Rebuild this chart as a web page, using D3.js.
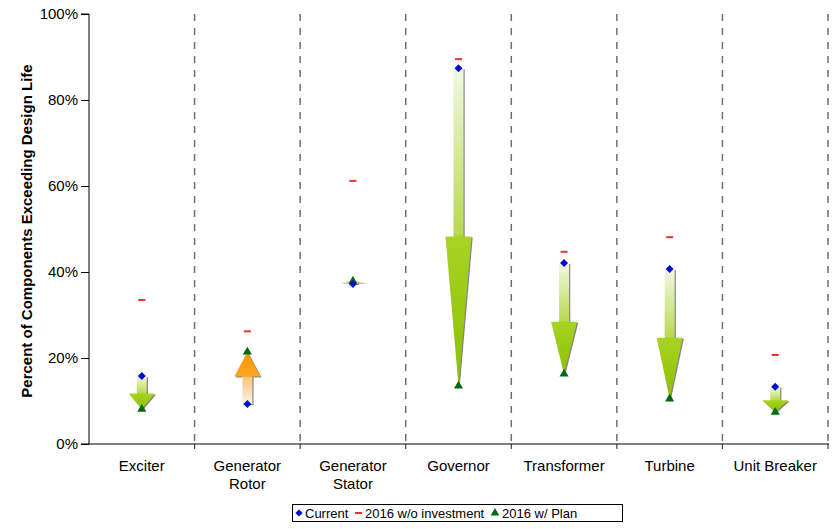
<!DOCTYPE html>
<html>
<head>
<meta charset="utf-8">
<script src="https://cdn.jsdelivr.net/npm/d3@7"></script>
<style>
  body { margin: 0; background: #fff; }
  svg { font-family: "Liberation Sans", Arial, sans-serif; }
  .axis text { font-size: 15px; fill: #000; }
</style>
</head>
<body>
<svg id="chart" width="834" height="529"></svg>
<script>
// chart values (fractions of 1)
const categories = ['Exciter', 'Generator\nRotor', 'Generator\nStator', 'Governor', 'Transformer', 'Turbine', 'Unit Breaker'];
const current = [0.158, 0.093, 0.372, 0.874, 0.421, 0.407, 0.133];
const noInvestment = [0.335, 0.262, 0.612, 0.895, 0.447, 0.481, 0.207];
const withPlan = [0.081, 0.214, 0.379, 0.135, 0.163, 0.105, 0.074];
const yTicks = [0, 0.2, 0.4, 0.6, 0.8, 1];

const svg = d3.select('#chart');
const m = { left: 89, right: 828, top: 14, bottom: 444 };

const x = d3.scaleBand().domain(categories).range([m.left, m.right]).padding(0);
const y = d3.scaleLinear().domain([0, 1]).range([m.bottom, m.top]);

const defs = svg.append('defs');
const edgeOf = c => x(c) + x.bandwidth();

// category separators (dashed) with small ticks under the axis
const sep = svg.append('g');
sep.selectAll('line.sep')
  .data(categories)
  .join('line')
  .attr('class', 'sep')
  .attr('x1', edgeOf).attr('x2', edgeOf)
  .attr('y1', m.top).attr('y2', m.bottom)
  .attr('stroke', '#6e6e6e')
  .attr('stroke-width', 1.5)
  .attr('stroke-dasharray', '7,7');
sep.selectAll('line.tk')
  .data(categories)
  .join('line')
  .attr('class', 'tk')
  .attr('x1', edgeOf).attr('x2', edgeOf)
  .attr('y1', m.bottom).attr('y2', m.bottom + 5)
  .attr('stroke', '#444')
  .attr('stroke-width', 1.2);

// y axis
const yAxis = d3.axisLeft(y).tickValues(yTicks).tickFormat(d3.format('.0%')).tickSize(8).tickPadding(3);
const gy = svg.append('g').attr('class', 'axis').attr('transform', `translate(${m.left},0)`).call(yAxis);
gy.select('.domain').attr('stroke', '#000').attr('d', `M-8,${m.top}H0V${m.bottom}H-8`);
gy.selectAll('.tick line').attr('stroke', '#000');

// x axis baseline
svg.append('line')
  .attr('x1', m.left).attr('x2', m.right + 1)
  .attr('y1', m.bottom).attr('y2', m.bottom)
  .attr('stroke', '#000').attr('stroke-width', 1);

// x labels
svg.append('g').attr('class', 'axis')
  .selectAll('text')
  .data(categories)
  .join('text')
  .attr('x', d => x(d) + x.bandwidth() / 2)
  .attr('y', 471)
  .attr('text-anchor', 'middle')
  .each(function (d) {
    d.split('\n').forEach((line, i) => {
      d3.select(this).append('tspan')
        .attr('x', x(d) + x.bandwidth() / 2)
        .attr('dy', i === 0 ? 0 : 18)
        .text(line);
    });
  });

// y title
svg.append('text')
  .attr('transform', `translate(32,${(m.top + m.bottom) / 2 + 2}) rotate(-90)`)
  .attr('text-anchor', 'middle')
  .style('font-size', '15px')
  .style('font-weight', 'bold')
  .text('Percent of Components Exceeding Design Life');

// block arrows from current to plan
const rows = categories.map((c, i) => ({ c, i, cur: current[i], no: noInvestment[i], plan: withPlan[i] }));
const cxOf = d => x(d.c) + x.bandwidth() / 2;

const arrowPts = (d) => {
  const cx = cxOf(d);
  const y0 = y(d.cur), y1 = y(d.plan);
  const yh = y1 - (y1 - y0) * 0.47;
  const sw = 5, hw = 13;
  return [[cx - sw, y0], [cx + sw, y0], [cx + sw, yh], [cx + hw, yh], [cx, y1], [cx - hw, yh], [cx - sw, yh]];
};

rows.forEach(d => {
  const up = d.plan > d.cur;
  const g = defs.append('linearGradient')
    .attr('id', 'grad' + d.i)
    .attr('gradientUnits', 'userSpaceOnUse')
    .attr('x1', 0).attr('x2', 0)
    .attr('y1', y(d.cur)).attr('y2', y(d.plan));
  const stops = up
    ? [[0, '#fdf3e6'], [0.52, '#fbc47a'], [0.53, '#ffa426'], [1, '#ff9400']]
    : [[0, '#f3f8e3'], [0.52, '#b8da50'], [0.53, '#a8d324'], [1, '#8cbf00']];
  stops.forEach(s => g.append('stop').attr('offset', s[0]).attr('stop-color', s[1]));
});

const line = d3.line();
const arrows = svg.append('g');
arrows.selectAll('path.shadow')
  .data(rows)
  .join('path')
  .attr('class', 'shadow')
  .attr('d', d => line(arrowPts(d)) + 'Z')
  .attr('transform', 'translate(1.2,1)')
  .attr('fill', '#222')
  .attr('opacity', 0.55);
arrows.selectAll('path.arrow')
  .data(rows)
  .join('path')
  .attr('class', 'arrow')
  .attr('d', d => line(arrowPts(d)) + 'Z')
  .attr('fill', d => `url(#grad${d.i})`);

// markers
svg.append('g').selectAll('rect')
  .data(rows)
  .join('rect')
  .attr('x', d => cxOf(d) - 3.5)
  .attr('y', d => y(d.no) - 1)
  .attr('width', 7).attr('height', 2)
  .attr('fill', '#f03030');

svg.append('g').selectAll('path')
  .data(rows)
  .join('path')
  .attr('d', d3.symbol(d3.symbolTriangle, 36))
  .attr('transform', d => `translate(${cxOf(d)},${y(d.plan)})`)
  .attr('fill', '#006a10');

svg.append('g').selectAll('path')
  .data(rows)
  .join('path')
  .attr('d', d3.symbol(d3.symbolSquare, 32))
  .attr('transform', d => `translate(${cxOf(d)},${y(d.cur)}) rotate(45)`)
  .attr('fill', '#0010d0');

// legend
const lg = svg.append('g');
lg.append('rect')
  .attr('x', 292.5).attr('y', 504.5).attr('width', 330).attr('height', 17)
  .attr('fill', '#fff').attr('stroke', '#000');
lg.append('path')
  .attr('d', d3.symbol(d3.symbolSquare, 26))
  .attr('transform', 'translate(299,513) rotate(45)')
  .attr('fill', '#0010d0');
lg.append('rect').attr('x', 355).attr('y', 512).attr('width', 7).attr('height', 2).attr('fill', '#f03030');
lg.append('path')
  .attr('d', d3.symbol(d3.symbolTriangle, 32))
  .attr('transform', 'translate(495,513)')
  .attr('fill', '#006a10');
[['Current', 305], ['2016 w/o investment', 365], ['2016 w/ Plan', 502]].forEach(t => {
  lg.append('text').attr('x', t[1]).attr('y', 518).style('font-size', '13px').text(t[0]);
});
</script>
</body>
</html>
